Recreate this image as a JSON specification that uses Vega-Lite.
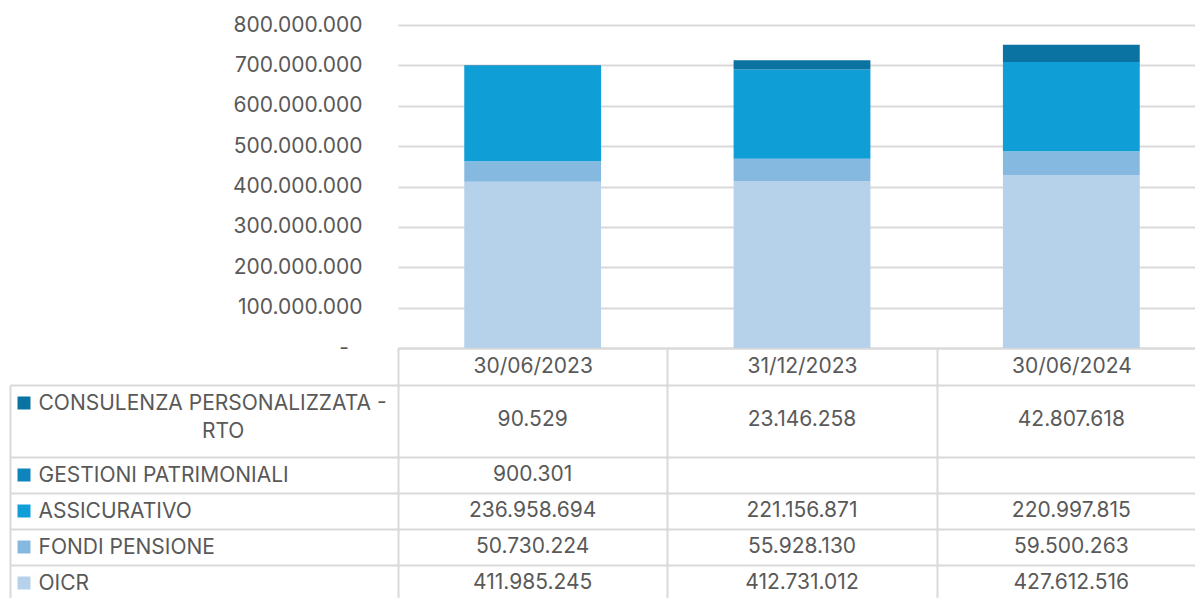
{
  "$schema": "https://vega.github.io/schema/vega-lite/v6.json",
  "padding": {"left": 9, "top": 14, "right": 0, "bottom": 0},
  "datasets": {
    "d": [
      {"date": "30/06/2023", "series": "OICR", "value": 411985245},
      {"date": "30/06/2023", "series": "FONDI PENSIONE", "value": 50730224},
      {"date": "30/06/2023", "series": "ASSICURATIVO", "value": 236958694},
      {"date": "30/06/2023", "series": "GESTIONI PATRIMONIALI", "value": 900301},
      {"date": "30/06/2023", "series": "CONSULENZA PERSONALIZZATA - RTO", "value": 90529},
      {"date": "31/12/2023", "series": "OICR", "value": 412731012},
      {"date": "31/12/2023", "series": "FONDI PENSIONE", "value": 55928130},
      {"date": "31/12/2023", "series": "ASSICURATIVO", "value": 221156871},
      {"date": "31/12/2023", "series": "CONSULENZA PERSONALIZZATA - RTO", "value": 23146258},
      {"date": "30/06/2024", "series": "OICR", "value": 427612516},
      {"date": "30/06/2024", "series": "FONDI PENSIONE", "value": 59500263},
      {"date": "30/06/2024", "series": "ASSICURATIVO", "value": 220997815},
      {"date": "30/06/2024", "series": "CONSULENZA PERSONALIZZATA - RTO", "value": 42807618}
    ]
  },
  "config": {
    "view": {"stroke": null},
    "font": "Inter",
    "locale": {"number": {"decimal": ",", "thousands": ".", "grouping": [3], "currency": ["", " €"]}},
    "axis": {
      "labelFont": "Inter", "labelFontSize": 21, "labelColor": "#595959",
      "gridColor": "#d9d9d9", "gridWidth": 2,
      "tickColor": "#d9d9d9", "tickWidth": 2,
      "domainColor": "#d9d9d9", "domainWidth": 2
    },
    "text": {"font": "Inter", "fontSize": 21, "color": "#595959"}
  },
  "columns": 2,
  "align": "each",
  "bounds": "flush",
  "spacing": {"row": 37, "column": 360},
  "concat": [
    {
      "width": 28, "height": 323,
      "data": {"values": []},
      "mark": {"type": "point", "opacity": 0},
      "encoding": {}
    },
    {
      "width": 808, "height": 323,
      "data": {"name": "d"},
      "transform": [
        {"calculate": "indexof(['OICR','FONDI PENSIONE','ASSICURATIVO','GESTIONI PATRIMONIALI','CONSULENZA PERSONALIZZATA - RTO'], datum.series)", "as": "stackOrder"}
      ],
      "mark": {"type": "bar", "width": {"band": 0.508}},
      "encoding": {
        "x": {
          "field": "date", "type": "nominal", "sort": null,
          "scale": {"domain": ["30/06/2023", "31/12/2023", "30/06/2024"], "paddingInner": 0, "paddingOuter": 0},
          "axis": {"title": null, "labelAngle": 0, "tickBand": "extent", "tickSize": 37, "labelPadding": -19, "labelBaseline": "middle", "domain": true}
        },
        "y": {
          "field": "value", "type": "quantitative", "stack": "zero",
          "scale": {"domain": [0, 800000000], "nice": false},
          "axis": {
            "title": null,
            "values": [0, 100000000, 200000000, 300000000, 400000000, 500000000, 600000000, 700000000, 800000000],
            "format": ",d",
            "labelExpr": "datum.value === 0 ? '-\u2007\u200b' : datum.label",
            "ticks": false, "domain": false, "labelPadding": 36, "grid": true
          }
        },
        "color": {
          "field": "series", "type": "nominal",
          "scale": {
            "domain": ["CONSULENZA PERSONALIZZATA - RTO", "GESTIONI PATRIMONIALI", "ASSICURATIVO", "FONDI PENSIONE", "OICR"],
            "range": ["#0a73a2", "#0e86bd", "#109ed7", "#86b9e0", "#b5d2ea"]
          },
          "legend": null
        },
        "order": {"field": "stackOrder", "type": "quantitative"}
      }
    },
    {
      "width": 28, "height": 216,
      "data": {"name": "d"},
      "transform": [{"filter": "datum.date === '30/06/2023'"}],
      "mark": {"type": "point", "shape": "square", "filled": true, "size": 169, "opacity": 1},
      "encoding": {
        "y": {
          "field": "series", "type": "nominal",
          "scale": {"domain": ["CONSULENZA PERSONALIZZATA - RTO", "_", "GESTIONI PATRIMONIALI", "ASSICURATIVO", "FONDI PENSIONE", "OICR"], "paddingInner": 0, "paddingOuter": 0},
          "axis": {"title": null, "labels": false, "ticks": false, "grid": false, "domain": true}
        },
        "color": {
          "field": "series", "type": "nominal",
          "scale": {
            "domain": ["CONSULENZA PERSONALIZZATA - RTO", "GESTIONI PATRIMONIALI", "ASSICURATIVO", "FONDI PENSIONE", "OICR"],
            "range": ["#0a73a2", "#0e86bd", "#109ed7", "#86b9e0", "#b5d2ea"]
          },
          "legend": null
        }
      }
    },
    {
      "width": 808, "height": 216,
      "data": {"name": "d"},
      "encoding": {
        "x": {
          "field": "date", "type": "nominal", "sort": null,
          "scale": {"domain": ["30/06/2023", "31/12/2023", "30/06/2024"], "paddingInner": 0, "paddingOuter": 0},
          "axis": {"orient": "top", "title": null, "labels": false, "ticks": false, "domain": false, "grid": true, "tickBand": "extent"}
        },
        "y": {
          "field": "series", "type": "nominal",
          "scale": {"domain": ["CONSULENZA PERSONALIZZATA - RTO", "_", "GESTIONI PATRIMONIALI", "ASSICURATIVO", "FONDI PENSIONE", "OICR"], "paddingInner": 0, "paddingOuter": 0},
          "axis": {
            "orient": "left", "title": null, "domain": false, "grid": true, "tickBand": "extent",
            "ticks": true, "tickSize": 388,
            "tickOpacity": {"condition": {"test": "datum.value === 'CONSULENZA PERSONALIZZATA - RTO'", "value": 0}, "value": 1},
            "gridOpacity": {"condition": {"test": "datum.value === 'CONSULENZA PERSONALIZZATA - RTO'", "value": 0}, "value": 1},
            "labelAlign": "left", "labelPadding": -28, "labelLimit": 500, "labelOverlap": false, "labelLineHeight": 28,
            "labelExpr": "datum.value === '_' ? '' : (datum.value === 'CONSULENZA PERSONALIZZATA - RTO' ? ['CONSULENZA PERSONALIZZATA -', '\u200b\u2007\u2007\u2007\u2007\u2007\u2007\u2007\u2007\u2007\u2007\u2007\u2007RTO'] : datum.label)"
          }
        },
        "text": {"field": "value", "type": "quantitative", "format": ",d"}
      },
      "layer": [
        {
          "transform": [{"filter": "datum.series !== 'CONSULENZA PERSONALIZZATA - RTO'"}],
          "mark": {"type": "text"}
        },
        {
          "transform": [{"filter": "datum.series === 'CONSULENZA PERSONALIZZATA - RTO'"}],
          "mark": {"type": "text", "dy": 17}
        }
      ]
    }
  ]
}
